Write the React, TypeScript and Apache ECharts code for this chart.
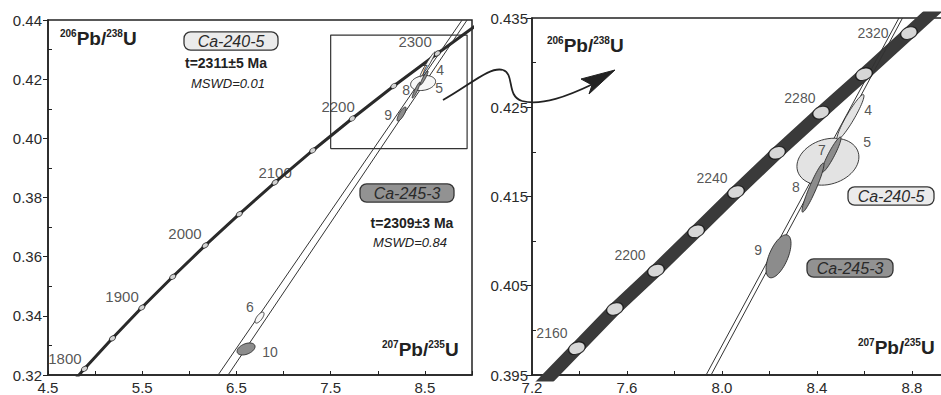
import React, { useEffect, useRef } from "react";
import * as echarts from "echarts";

// ---------- Left panel data ----------
const leftAges = [1750, 1800, 1850, 1900, 1950, 2000, 2050, 2100, 2150, 2200, 2250, 2300, 2350];
const leftConcX = [4.604, 4.887, 5.184, 5.496, 5.824, 6.169, 6.530, 6.910, 7.310, 7.729, 8.170, 8.633, 9.119];
const leftConcY = [0.3119, 0.3221, 0.3324, 0.3428, 0.3532, 0.3638, 0.3744, 0.3851, 0.3959, 0.4067, 0.4177, 0.4287, 0.4399];
const leftMarkerAges = [1800, 1850, 1900, 1950, 2000, 2050, 2100, 2150, 2200, 2250, 2300];
const leftAgeLabels = ["1800", "1900", "2000", "2100", "2200", "2300"];
const leftAgeLabelX = [4.680, 5.286, 5.954, 6.910, 7.579, 8.396];
const leftAgeLabelY = [0.3257, 0.3464, 0.3677, 0.3886, 0.4106, 0.4326];
// discordia chords [x1, y1, x2, y2]
const leftChordA = [6.305, 0.32, 8.895, 0.44];
const leftChordB = [6.411, 0.32, 8.948, 0.44];
// ellipses: [cx, cy, sx, sy, rho, group(0 = Ca-240-5, 1 = Ca-245-3, 2 = open)]
const leftEllipses = [
  [8.481, 0.4187, 0.1327, 0.00254, 0.2, 2],
  [8.529, 0.4250, 0.080, 0.0042, 0.97, 2],
  [8.492, 0.4204, 0.042, 0.0024, 0.93, 1],
  [8.407, 0.4163, 0.042, 0.0027, 0.93, 1],
  [8.253, 0.4082, 0.048, 0.00237, 0.8, 1],
  [6.745, 0.3394, 0.048, 0.00186, 0.7, 2],
  [6.602, 0.3288, 0.0955, 0.00203, 0.4, 1],
];
const leftEllLabels = ["4", "5", "7", "8", "9", "6", "10"];
const leftEllLabelX = [8.661, 8.651, 8.492, 8.300, 8.109, 6.644, 6.857];
const leftEllLabelY = [0.4231, 0.4170, 0.4231, 0.4163, 0.4079, 0.3430, 0.3278];
const insetX = [7.5, 8.948];
const insetY = [0.3965, 0.4349];

// ---------- Right panel data ----------
const rightAges = [2140, 2160, 2180, 2200, 2220, 2240, 2260, 2280, 2300, 2320, 2340];
const rightConcX = [7.229, 7.389, 7.549, 7.722, 7.891, 8.059, 8.232, 8.417, 8.598, 8.787, 8.976];
const rightConcY = [0.3936, 0.3980, 0.4024, 0.4067, 0.4111, 0.4155, 0.4199, 0.4244, 0.4287, 0.4333, 0.4379];
const rightMarkerAges = [2160, 2180, 2200, 2220, 2240, 2260, 2280, 2300, 2320];
const rightAgeLabels = ["2160", "2200", "2240", "2280", "2320"];
const rightAgeLabelX = [7.284, 7.613, 7.958, 8.328, 8.636];
const rightAgeLabelY = [0.3997, 0.4084, 0.4171, 0.4260, 0.4333];
const rightChordA = [7.933, 0.395, 8.745, 0.435];
const rightChordB = [7.954, 0.395, 8.760, 0.435];
const rightEllipses = [
  [8.446, 0.4189, 0.1305, 0.00263, 0.2, 0],
  [8.541, 0.4239, 0.0568, 0.00252, 0.94, 0],
  [8.461, 0.4197, 0.040, 0.00196, 0.93, 1],
  [8.383, 0.4160, 0.0463, 0.00275, 0.94, 1],
  [8.238, 0.4083, 0.0526, 0.00241, 0.6, 1],
];
const rightEllLabels = ["5", "4", "7", "8", "9"];
const rightEllLabelX = [8.611, 8.615, 8.421, 8.311, 8.152];
const rightEllLabelY = [0.4211, 0.4247, 0.4202, 0.4161, 0.4090];

// ---------- Axis ticks ----------
const leftXLabels = [4.5, 5.5, 6.5, 7.5, 8.5];
const leftXTicks = [4.5, 5, 5.5, 6, 6.5, 7, 7.5, 8, 8.5, 9];
const leftYLabels = [0.32, 0.34, 0.36, 0.38, 0.4, 0.42, 0.44];
const leftYMinor = [0.33, 0.35, 0.37, 0.39, 0.41, 0.43];
const rightXLabels = [7.2, 7.6, 8.0, 8.4, 8.8];
const rightXTicks = [7.2, 7.4, 7.6, 7.8, 8.0, 8.2, 8.4, 8.6, 8.8];
const rightYLabels = [0.395, 0.405, 0.415, 0.425, 0.435];
const rightYMinor = [0.4, 0.41, 0.42, 0.43];

const FONT = "Liberation Sans, Arial, sans-serif";
const INK = "#222";
const TXT = "#2a2a2a";
const FILLS = ["#e3e3e3", "#8c8c8c", "#f7f7f7"];

const pick = (ages: number[], xs: number[], ys: number[], sel: number[]) =>
  sel.map((a) => {
    const i = ages.indexOf(a);
    return [xs[i], ys[i]];
  });

const zip = (xs: number[], ys: number[]) => xs.map((x, i) => [x, ys[i]]);

const labelData = (names: string[], xs: number[], ys: number[]) =>
  names.map((n, i) => ({ name: n, value: [xs[i], ys[i]] }));

function ellipseRender(params: any, api: any) {
  const cx = api.value(0), cy = api.value(1), sx = api.value(2), sy = api.value(3), r = api.value(4), g = api.value(5);
  const pts: number[][] = [];
  const k = Math.sqrt(1 - r * r);
  for (let i = 0; i < 60; i++) {
    const t = (i / 60) * Math.PI * 2;
    pts.push(api.coord([cx + sx * Math.cos(t), cy + sy * (r * Math.cos(t) + k * Math.sin(t))]));
  }
  return {
    type: "polygon",
    shape: { points: pts },
    style: { fill: FILLS[g], stroke: "#2a2a2a", lineWidth: 0.9 },
  };
}

function xAxisDef(grid: number, min: number, max: number, labels: number[], ticks: number[]) {
  return {
    type: "value", gridIndex: grid, min, max, position: "bottom",
    axisLine: { show: true, lineStyle: { color: INK, width: 1.5 } },
    axisTick: { show: true, inside: true, length: 4, customValues: ticks, lineStyle: { color: INK } },
    axisLabel: { customValues: labels, formatter: (v: number) => v.toFixed(1), fontSize: 15, color: TXT, fontFamily: FONT, margin: 5 },
    splitLine: { show: false },
  };
}

function yAxisDefs(grid: number, min: number, max: number, labels: number[], minor: number[], digits: number, margin: number) {
  return [
    {
      type: "value", gridIndex: grid, min, max, position: "left",
      axisLine: { show: true, lineStyle: { color: INK, width: 1.5 } },
      axisTick: { show: true, inside: false, length: 5, customValues: labels, lineStyle: { color: INK } },
      axisLabel: { customValues: labels, formatter: (v: number) => v.toFixed(digits), fontSize: 15, color: TXT, fontFamily: FONT, margin },
      splitLine: { show: false },
    },
    {
      type: "value", gridIndex: grid, min, max, position: "left",
      axisLine: { show: false },
      axisTick: { show: true, inside: true, length: 4, customValues: minor, lineStyle: { color: INK } },
      axisLabel: { show: false },
      splitLine: { show: false },
    },
  ];
}

function chord(c: number[], xi: number, yi: number) {
  return {
    type: "line", xAxisIndex: xi, yAxisIndex: yi, data: [[c[0], c[1]], [c[2], c[3]]],
    showSymbol: false, lineStyle: { color: "#333", width: 1 }, z: 3, silent: true,
  };
}

function textLabels(data: any[], xi: number, yi: number, size: number) {
  return {
    type: "scatter", xAxisIndex: xi, yAxisIndex: yi, data, symbolSize: 0, z: 6, silent: true,
    label: { show: true, position: "inside", formatter: "{b}", fontSize: size, color: TXT, fontFamily: FONT },
  };
}

function ratio(x: number, y: number, top: string, bottom: string) {
  return {
    type: "text", x, y,
    style: {
      text: `{s|${top}}{b|Pb/}{s|${bottom}}{b|U}`,
      align: "left", verticalAlign: "middle",
      rich: {
        s: { fontSize: 10, fontWeight: "bold", fontFamily: FONT, fill: INK, verticalAlign: "top", lineHeight: 10 },
        b: { fontSize: 19, fontWeight: "bold", fontFamily: FONT, fill: INK, lineHeight: 20 },
      },
    },
    z: 20,
  };
}

function box(x: number, y: number, text: string, fill: string, size: number, padX: number) {
  return {
    type: "text", x, y,
    style: {
      text, align: "center", verticalAlign: "middle", fontSize: size, fontStyle: "italic", fontFamily: FONT, fill: TXT,
      backgroundColor: fill, borderColor: "#333", borderWidth: 1.3, borderRadius: 6, padding: [1, padX, 0, padX],
    },
    z: 20,
  };
}

function plain(x: number, y: number, text: string, size: number, weight: string, style: string) {
  return {
    type: "text", x, y,
    style: { text, align: "center", verticalAlign: "middle", fontSize: size, fontWeight: weight, fontStyle: style, fontFamily: FONT, fill: INK },
    z: 20,
  };
}

export default function App() {
  const ref = useRef<HTMLDivElement>(null);
  useEffect(() => {
    document.body.style.margin = "0";
    const chart = echarts.init(ref.current!, null, { renderer: "svg" });
    const lyA = yAxisDefs(0, 0.32, 0.44, leftYLabels, leftYMinor, 2, 6);
    const ryA = yAxisDefs(1, 0.395, 0.435, rightYLabels, rightYMinor, 3, 4);
    const insetRect = [
      [insetX[0], insetY[0]], [insetX[1], insetY[0]], [insetX[1], insetY[1]], [insetX[0], insetY[1]], [insetX[0], insetY[0]],
    ];
    chart.setOption({
      animation: false,
      backgroundColor: "#ffffff",
      grid: [
        { left: 48, top: 20, width: 424, height: 355, show: true, borderColor: INK, borderWidth: 1.5, backgroundColor: "transparent", outerBoundsMode: "none", containLabel: false },
        { left: 532, top: 18, width: 427.5, height: 357, show: true, borderColor: INK, borderWidth: 1.5, backgroundColor: "transparent", outerBoundsMode: "none", containLabel: false },
      ],
      xAxis: [
        xAxisDef(0, 4.5, 9.0, leftXLabels, leftXTicks),
        xAxisDef(1, 7.2, 9.0, rightXLabels, rightXTicks),
      ],
      yAxis: [...lyA, ...ryA],
      series: [
        // left panel
        {
          type: "line", xAxisIndex: 0, yAxisIndex: 0, data: insetRect, showSymbol: false,
          lineStyle: { color: "#333", width: 1.2 }, z: 2, silent: true,
        },
        {
          type: "line", xAxisIndex: 0, yAxisIndex: 0, data: zip(leftConcX, leftConcY), showSymbol: false,
          lineStyle: { color: "#2a2a2a", width: 3 }, z: 3, silent: true,
        },
        chord(leftChordA, 0, 0),
        chord(leftChordB, 0, 0),
        {
          type: "custom", xAxisIndex: 0, yAxisIndex: 0, data: leftEllipses, renderItem: ellipseRender,
          encode: { x: 0, y: 1 }, z: 4, silent: true,
        },
        {
          type: "scatter", xAxisIndex: 0, yAxisIndex: 0, data: pick(leftAges, leftConcX, leftConcY, leftMarkerAges),
          symbol: "circle", symbolSize: [7, 4.5], symbolRotate: 37,
          itemStyle: { color: "#fff", borderColor: "#111", borderWidth: 1 }, z: 5, silent: true,
        },
        textLabels(labelData(leftAgeLabels, leftAgeLabelX, leftAgeLabelY), 0, 0, 15),
        textLabels(labelData(leftEllLabels, leftEllLabelX, leftEllLabelY), 0, 0, 14),
        // right panel
        {
          type: "line", xAxisIndex: 1, yAxisIndex: 2, data: zip(rightConcX, rightConcY), showSymbol: false,
          lineStyle: { color: "#3a3a3a", width: 13 }, z: 3, silent: true,
        },
        chord(rightChordA, 1, 2),
        chord(rightChordB, 1, 2),
        {
          type: "custom", xAxisIndex: 1, yAxisIndex: 2, data: rightEllipses, renderItem: ellipseRender,
          encode: { x: 0, y: 1 }, z: 4, silent: true,
        },
        {
          type: "scatter", xAxisIndex: 1, yAxisIndex: 2, data: pick(rightAges, rightConcX, rightConcY, rightMarkerAges),
          symbol: "circle", symbolSize: [17, 12], symbolRotate: 20,
          itemStyle: { color: "#fff", borderColor: "#111", borderWidth: 1.2 }, z: 5, silent: true,
        },
        textLabels(labelData(rightAgeLabels, rightAgeLabelX, rightAgeLabelY), 1, 2, 14),
        textLabels(labelData(rightEllLabels, rightEllLabelX, rightEllLabelY), 1, 2, 14),
      ],
      graphic: [
        ratio(60, 38, "206", "238"),
        ratio(382, 349, "207", "235"),
        ratio(547, 45, "206", "238"),
        ratio(858, 347, "207", "235"),
        box(231, 41, "Ca-240-5", "#ebebeb", 16, 13),
        plain(226, 63, "t=2311±5 Ma", 14, "bold", "normal"),
        plain(228, 83, "MSWD=0.01", 13, "normal", "italic"),
        box(407, 193, "Ca-245-3", "#929292", 16, 13),
        plain(412, 223, "t=2309±3 Ma", 14, "bold", "normal"),
        plain(410, 242, "MSWD=0.84", 13, "normal", "italic"),
        box(891, 196, "Ca-240-5", "#ebebeb", 16, 9),
        box(850, 268, "Ca-245-3", "#929292", 16, 9),
        {
          type: "bezierCurve", shape: { x1: 443, y1: 100, cpx1: 470, cpy1: 85, cpx2: 490, cpy2: 66, x2: 503, y2: 70 },
          style: { stroke: INK, lineWidth: 1.8, fill: null }, z: 20,
        },
        {
          type: "bezierCurve", shape: { x1: 503, y1: 70, cpx1: 515, cpy1: 74, cpx2: 506, cpy2: 96, x2: 522, y2: 101 },
          style: { stroke: INK, lineWidth: 1.8, fill: null }, z: 20,
        },
        {
          type: "bezierCurve", shape: { x1: 522, y1: 101, cpx1: 542, cpy1: 106, cpx2: 568, cpy2: 96, x2: 593, y2: 84 },
          style: { stroke: INK, lineWidth: 1.8, fill: null }, z: 20,
        },
        {
          type: "polygon", shape: { points: [[615, 70], [581, 79], [592, 85], [589, 94]] },
          style: { fill: INK, stroke: INK, lineWidth: 1 }, z: 20,
        },
      ],
    });
    return () => chart.dispose();
  }, []);
  return <div ref={ref} style={{ width: 941, height: 395 }} />;
}
